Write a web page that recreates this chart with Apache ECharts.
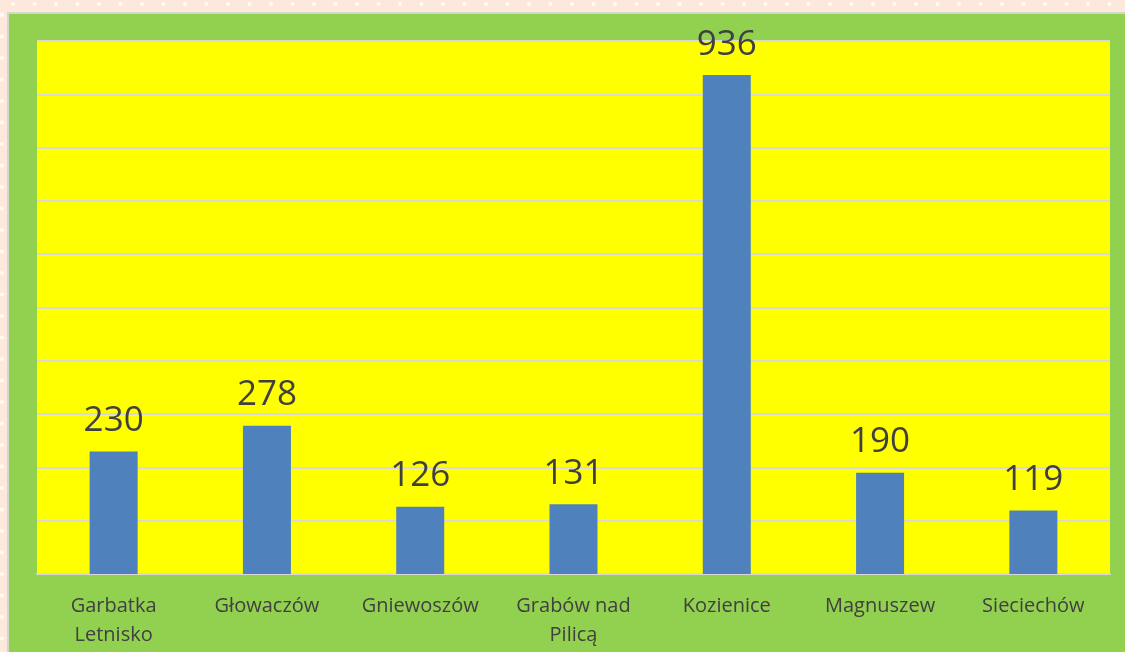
<!DOCTYPE html>
<html>
<head>
<meta charset="utf-8">
<script src="https://cdn.jsdelivr.net/npm/echarts@6/dist/echarts.min.js"></script>
<style>
  html, body { margin: 0; padding: 0; background: #FDE9DC; }
  #chart { width: 1125px; height: 652px; }
</style>
</head>
<body>
<div id="chart"></div>
<script>
const categories = ['Garbatka\nLetnisko', 'Głowaczów', 'Gniewoszów', 'Grabów nad\nPilicą', 'Kozienice', 'Magnuszew', 'Sieciechów']
const values = [230, 278, 126, 131, 936, 190, 119]

const chart = echarts.init(document.getElementById('chart'), null, { renderer: 'canvas' })

// decorative dots on the pink frame
const dots = []
for (let x = 13; x < 1125; x += 21.5) dots.push({ type: 'circle', shape: { cx: x, cy: 4, r: 2 }, style: { fill: 'rgba(255,255,255,0.8)' }, silent: true })
for (let y = 15; y < 652; y += 21.5) dots.push({ type: 'circle', shape: { cx: 2, cy: y, r: 2 }, style: { fill: 'rgba(255,255,255,0.8)' }, silent: true })

chart.setOption({
  backgroundColor: '#FDE9DC',
  textStyle: { fontFamily: '"Open Sans", sans-serif' },
  graphic: [
    ...dots,
    {
      type: 'rect', z: -10, silent: true,
      shape: { x: 8, y: 13, width: 1125, height: 652 },
      style: { fill: '#92D050', stroke: '#D4D8C8', lineWidth: 2 }
    }
  ],
  grid: {
    left: 37, right: 15, top: 41, bottom: 78,
    show: true, backgroundColor: '#FFFF00', borderWidth: 0
  },
  xAxis: {
    type: 'category', data: categories,
    axisLine: { lineStyle: { color: '#D9D9D9', width: 2 } },
    axisTick: { show: false },
    axisLabel: { color: '#404040', fontSize: 20, lineHeight: 29, margin: 18, interval: 0 }
  },
  yAxis: {
    type: 'value', min: 0, max: 1000, interval: 100,
    axisLine: { show: false },
    axisTick: { show: false },
    axisLabel: { show: false },
    splitLine: { lineStyle: { color: '#D9D9D9', width: 2 } }
  },
  series: [{
    type: 'bar', data: values, barWidth: 48,
    itemStyle: { color: '#4F81BD' },
    label: { show: true, position: 'top', distance: 13, color: '#404040', fontSize: 35 }
  }]
})
</script>
</body>
</html>
